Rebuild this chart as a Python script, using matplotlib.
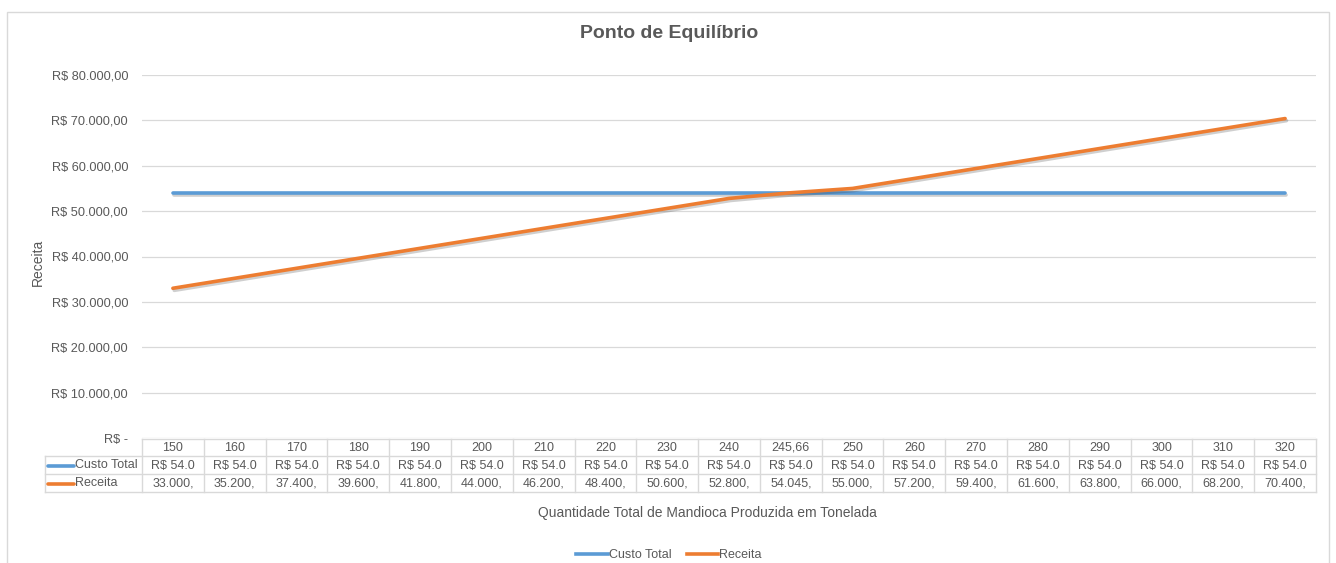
import matplotlib
matplotlib.use('Agg')
import matplotlib.pyplot as plt
import matplotlib.patheffects as pe
from matplotlib.patches import Rectangle
from matplotlib.lines import Line2D
from matplotlib.ticker import FuncFormatter
import numpy as np

plt.rcParams['font.family'] = ['Liberation Sans', 'DejaVu Sans']

# dados
categorias = ["150", "160", "170", "180", "190", "200", "210", "220", "230", "240",
              "245,66", "250", "260", "270", "280", "290", "300", "310", "320"]
custo_total = [54000] * 19
receita = [33000, 35200, 37400, 39600, 41800, 44000, 46200, 48400, 50600, 52800,
           54045, 55000, 57200, 59400, 61600, 63800, 66000, 68200, 70400]

AZUL = '#5B9BD5'
LARANJA = '#ED7D31'
CINZA = '#595959'
GRADE = '#D9D9D9'

W, H = 1336, 563
fig = plt.figure(figsize=(W / 100, H / 100), dpi=100)


def fx(px):
    return px / W


def fy(py):
    return (H - py) / H


# moldura do grafico
fig.patches.append(Rectangle((fx(7), fy(600)), fx(1329) - fx(7), fy(12) - fy(600),
                             transform=fig.transFigure, fill=False,
                             edgecolor=GRADE, linewidth=1))

left, right, top, bottom = 142, 1316, 75, 438
ax = fig.add_axes([fx(left), fy(bottom), fx(right) - fx(left), fy(top) - fy(bottom)])

x = np.arange(len(categorias))
sombra = [pe.SimpleLineShadow(offset=(1.0, -1.5), alpha=0.25, shadow_color='#404040'), pe.Normal()]
ax.plot(x, custo_total, color=AZUL, lw=2.6, solid_capstyle='round', path_effects=sombra, zorder=3)
ax.plot(x, receita, color=LARANJA, lw=2.6, solid_capstyle='round', path_effects=sombra, zorder=4)

ax.set_xlim(-0.5, len(categorias) - 0.5)
ax.set_ylim(0, 80000)
ax.set_yticks(np.arange(0, 80001, 10000))


def fmt_real(v, pos=None):
    if v == 0:
        return 'R$ -'
    s = f"{v:,.2f}".replace(',', 'X').replace('.', ',').replace('X', '.')
    return 'R$ ' + s


ax.yaxis.set_major_formatter(FuncFormatter(fmt_real))
ax.tick_params(axis='y', length=0, pad=10, labelsize=9.2, labelcolor=CINZA)
ax.set_xticks([])
ax.grid(axis='y', color=GRADE, lw=0.9)
ax.set_axisbelow(True)
for s in ax.spines.values():
    s.set_visible(False)

fig.text(fx(669), fy(33), 'Ponto de Equilíbrio', ha='center', va='center',
         fontsize=14, fontweight='bold', color=CINZA)
fig.text(fx(38), fy(262), 'Receita', ha='center', va='center', rotation=90,
         fontsize=10, color=CINZA)
fig.text(fx(707), fy(513), 'Quantidade Total de Mandioca Produzida em Tonelada',
         ha='center', va='center', fontsize=10, color=CINZA)

# tabela de dados abaixo do eixo
linhas_y = [439, 456, 474, 492]
tab_left = 45


def hline(x0, x1, y):
    fig.add_artist(Line2D([fx(x0), fx(x1)], [fy(y), fy(y)], transform=fig.transFigure,
                          color=GRADE, lw=1))


def vline(xp, y0, y1):
    fig.add_artist(Line2D([fx(xp), fx(xp)], [fy(y0), fy(y1)], transform=fig.transFigure,
                          color=GRADE, lw=1))


hline(left, right, linhas_y[0])
for yy in linhas_y[1:]:
    hline(tab_left, right, yy)
vline(tab_left, linhas_y[1], linhas_y[3])
col_w = (right - left) / len(categorias)
for i in range(len(categorias) + 1):
    vline(left + i * col_w, linhas_y[0], linhas_y[3])

ctr = [(linhas_y[k] + linhas_y[k + 1]) / 2 + 0.5 for k in range(3)]


def corta(s):
    return s[:7]


for i, cat in enumerate(categorias):
    cx = left + (i + 0.5) * col_w
    fig.text(fx(cx), fy(ctr[0]), cat, ha='center', va='center', fontsize=9, color=CINZA)
    fig.text(fx(cx), fy(ctr[1]), corta(fmt_real(custo_total[i])), ha='center', va='center',
             fontsize=9, color=CINZA)
    fig.text(fx(cx), fy(ctr[2]), corta(fmt_real(receita[i])[3:]), ha='center', va='center',
             fontsize=9, color=CINZA)

for k, (nome, cor) in enumerate([('Custo Total', AZUL), ('Receita', LARANJA)]):
    yy = ctr[k + 1]
    fig.add_artist(Line2D([fx(48), fx(74)], [fy(yy), fy(yy)], transform=fig.transFigure,
                          color=cor, lw=2.6, solid_capstyle='round'))
    fig.text(fx(75), fy(yy), nome, ha='left', va='center', fontsize=9, color=CINZA)

# legenda
handles = [Line2D([], [], color=AZUL, lw=2.6), Line2D([], [], color=LARANJA, lw=2.6)]
fig.legend(handles, ['Custo Total', 'Receita'], loc='center', ncol=2,
           bbox_to_anchor=(fx(669), fy(555)), frameon=False, fontsize=9,
           handlelength=2.5, handletextpad=0.1, columnspacing=1.2, labelcolor=CINZA)

fig.savefig('out.png', dpi=100, facecolor='white')
